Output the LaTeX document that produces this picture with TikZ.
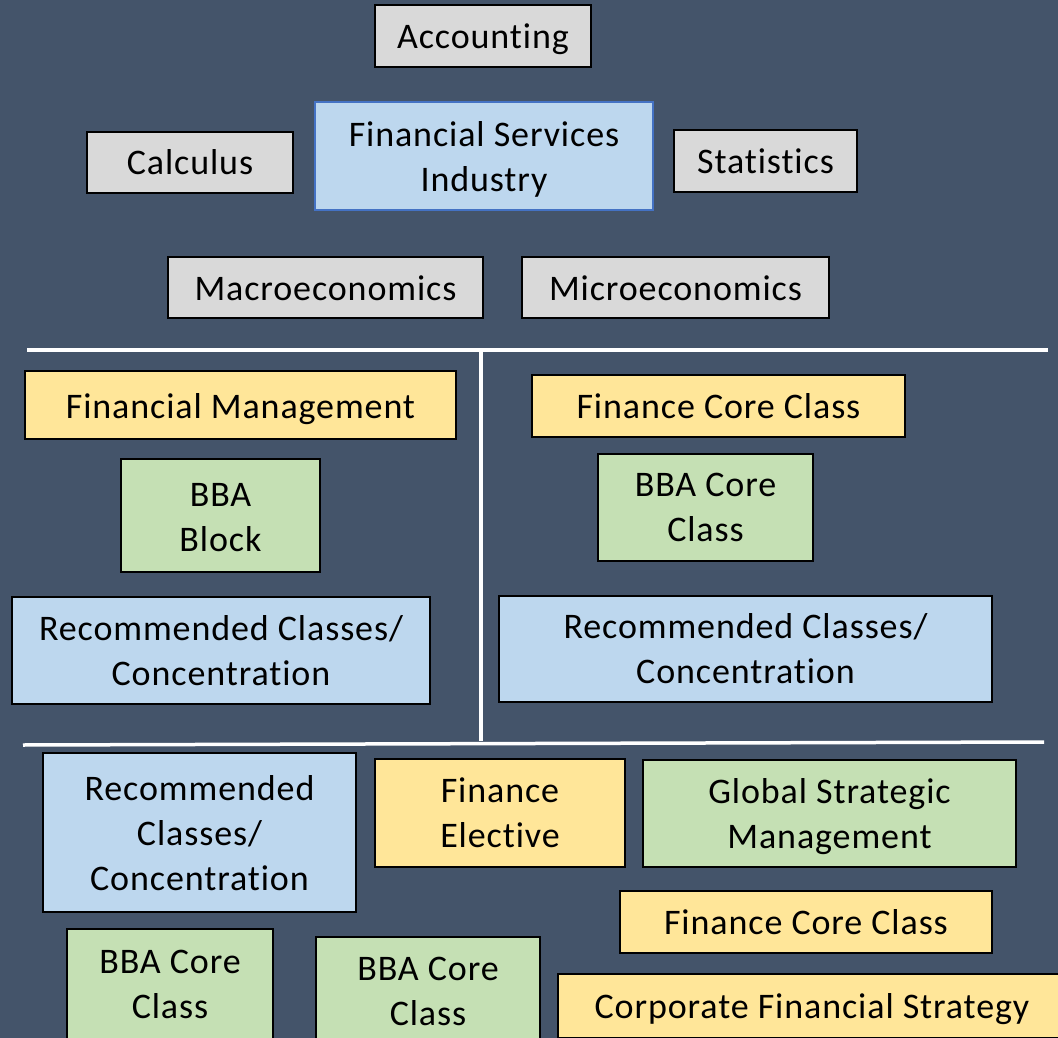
\documentclass[tikz,border=0pt]{standalone}
\usepackage{fontspec}
\setmainfont{Carlito}[Ligatures={NoCommon}, LetterSpace=2.5]
\definecolor{bgc}{HTML}{44546A}
\definecolor{grayf}{HTML}{D9D9D9}
\definecolor{bluef}{HTML}{BDD7EE}
\definecolor{yellowf}{HTML}{FFE699}
\definecolor{greenf}{HTML}{C5E0B4}
\definecolor{blueb}{HTML}{4472C4}
\newcommand\boxfont{\fontsize{36}{45}\selectfont}
\newcommand\lw[2]{\raisebox{-#1pt}[\height][\depth]{#2}}
\begin{document}
\begin{tikzpicture}[x=1pt,y=-1pt,
  box/.style={draw=black, line width=1.6pt, inner sep=0pt, align=center, font=\boxfont, text=black},
  graybox/.style={box, fill=grayf},
  bluebox/.style={box, fill=bluef},
  yellowbox/.style={box, fill=yellowf},
  greenbox/.style={box, fill=greenf},
  sep/.style={draw=white, line width=3.5pt}]
\useasboundingbox (0,0) rectangle (1058,1038);
\clip (0,0) rectangle (1058,1038);
\fill[bgc] (0,0) rectangle (1058,1038);
% top section
\node[graybox, minimum width=216pt, minimum height=62pt] (acc) at (483,36) {\lw{3}{Accounting}};
\node[graybox, minimum width=206pt, minimum height=61pt] (calc) at (190,162.5) {Calculus};
\node[bluebox, draw=blueb, minimum width=338pt, minimum height=108pt] (fsi) at (484,156) {\lw{3}{Financial Services}\\\lw{3}{Industry}};
\node[graybox, minimum width=183pt, minimum height=62pt] (stat) at (765.5,161) {Statistics};
\node[graybox, minimum width=315pt, minimum height=61pt] (macro) at (325.5,287.5) {\lw{1}{Macroeconomics}};
\node[graybox, minimum width=307pt, minimum height=61pt] (micro) at (675.5,287.5) {\lw{1}{Microeconomics}};
% separators
\coordinate (h1a) at (27,350);
\coordinate (h1b) at (1048,350);
\coordinate (v1a) at (481,350);
\coordinate (v1b) at (481,741);
\coordinate (h2a) at (23,745);
\coordinate (h2b) at (1044,742);
\draw[sep] (h1a) -- (h1b);
\draw[sep] (v1a) -- (v1b);
\draw[sep] (h2a) -- (h2b);
% middle left
\node[yellowbox, minimum width=431pt, minimum height=68pt] (fm) at (240.5,405) {\lw{4.5}{Financial Management}};
\node[greenbox, minimum width=199pt, minimum height=113pt] (bbab) at (220.5,515.5) {\lw{2.5}{BBA}\\\lw{2.5}{Block}};
\node[bluebox, minimum width=418pt, minimum height=107pt] (recl) at (221,650.5) {Recommended Classes/\\Concentration};
% middle right
\node[yellowbox, minimum width=373pt, minimum height=62pt] (fccr) at (718.5,406) {Finance Core Class};
\node[greenbox, minimum width=215pt, minimum height=107pt] (bbacr) at (705.5,507.5) {BBA Core\\Class};
\node[bluebox, minimum width=493pt, minimum height=106pt] (recr) at (745.5,649) {Recommended Classes/\\Concentration};
% bottom
\node[bluebox, minimum width=313pt, minimum height=159pt] (recb) at (199.5,832.5) {\lw{1}{Recommended}\\\lw{1}{Classes/}\\\lw{1}{Concentration}};
\node[yellowbox, minimum width=250pt, minimum height=108pt] (fe) at (500,813) {Finance\\Elective};
\node[greenbox, minimum width=373pt, minimum height=107pt] (gsm) at (829.5,813.5) {\lw{3.5}{Global Strategic}\\\lw{3.5}{Management}};
\node[yellowbox, minimum width=372pt, minimum height=62pt] (fccb) at (806,922) {Finance Core Class};
\node[greenbox, minimum width=206pt, minimum height=110pt] (bbal) at (170,984) {BBA Core\\Class};
\node[greenbox, minimum width=224pt, minimum height=108pt] (bbam) at (428,991) {BBA Core\\Class};
\node[yellowbox, minimum width=508pt, minimum height=64pt] (cfs) at (812,1006) {\lw{3}{Corporate Financial Strategy}};
\end{tikzpicture}
\end{document}
